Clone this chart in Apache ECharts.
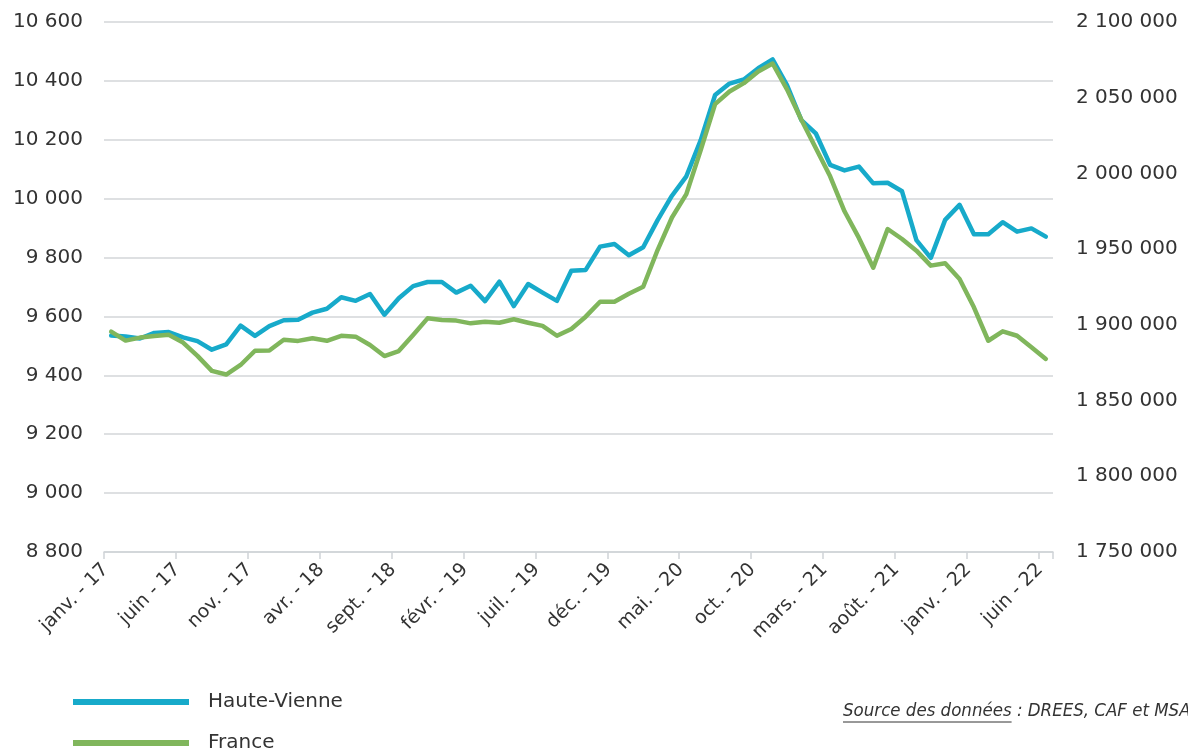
<!DOCTYPE html>
<html>
<head>
<meta charset="utf-8">
<script src="https://cdn.jsdelivr.net/npm/echarts@6/dist/echarts.min.js"></script>
<style>
html,body{margin:0;padding:0;background:#fff;}
#c{width:1188px;height:751px;}
</style>
</head>
<body>
<div id="c"></div>
<script>
// Categories: monthly, janv. 2017 -> juin 2022
const monthNames = ["janv.", "févr.", "mars.", "avr.", "mai.", "juin", "juil.", "août.", "sept.", "oct.", "nov.", "déc."];
const years = ["17", "18", "19", "20", "21", "22"];
const categories = [];
for (const y of years) {
  for (const m of monthNames) {
    categories.push(m + " - " + y);
    if (y === "22" && m === "juin") break;
  }
}

// Haute-Vienne (left axis)
const hauteVienne = [9535, 9532, 9525, 9544, 9547, 9529, 9516, 9487, 9505, 9569,
  9534, 9567, 9587, 9589, 9613, 9626, 9665, 9653, 9676, 9606,
  9662, 9703, 9717, 9717, 9681, 9704, 9652, 9718, 9635, 9710,
  9681, 9653, 9755, 9758, 9837, 9846, 9808, 9835, 9927, 10010,
  10076, 10199, 10352, 10391, 10405, 10443, 10473, 10386, 10267, 10222,
  10115, 10096, 10109, 10052, 10054, 10025, 9859, 9799, 9928, 9979,
  9879, 9879, 9920, 9888, 9899, 9871];

// France (right axis)
const france = [1895500, 1889600, 1891600, 1892700, 1893500, 1888300, 1879500, 1869600, 1867200, 1873500,
  1882900, 1883100, 1890200, 1889400, 1891100, 1889500, 1892800, 1892200, 1886700, 1879400,
  1882700, 1893300, 1904300, 1903200, 1902800, 1901000, 1902100, 1901400, 1903700, 1901400,
  1899300, 1892800, 1897300, 1905400, 1915300, 1915300, 1920600, 1925200, 1949400, 1970900,
  1986300, 2015500, 2045800, 2054100, 2059600, 2067300, 2072600, 2055500, 2035500, 2016800,
  1998100, 1975000, 1957400, 1937700, 1963300, 1956700, 1949000, 1939100, 1940700, 1930300,
  1911600, 1889500, 1895700, 1892800, 1885200, 1877500];

const seriesNames = ["Haute-Vienne", "France"];
const sourceLabel = "Source des données";
const sourceRest = " : DREES, CAF et MSA";

const fmt = v => String(v).replace(/\B(?=(\d{3})+(?!\d))/g, " ");

const FONT = "'DejaVu Sans', 'Noto Sans', sans-serif";
const SRCFONT = "'DejaVu Sans Condensed', 'DejaVu Sans', sans-serif";
const TXT = "#333333";
const BLUE = "#17aaca";
const GREEN = "#80b65c";
const SRC_SIZE = 18.5;

// measure underline width
const mctx = document.createElement("canvas").getContext("2d");
mctx.font = "italic " + SRC_SIZE + "px " + SRCFONT;
const uW = mctx.measureText(sourceLabel).width;
const srcX = 843, srcY = 702;

const legendCommon = {
  orient: "vertical",
  left: 68,
  icon: "rect",
  itemWidth: 116, itemHeight: 6,
  textStyle: {fontSize: 20, color: TXT, fontFamily: FONT, padding: [0, 0, 0, 14], lineHeight: 24}
};

const chart = echarts.init(document.getElementById("c"), null, {renderer: "canvas"});
chart.setOption({
  animation: false,
  backgroundColor: "#fff",
  grid: {left: 104, right: 135, top: 22, bottom: 199, containLabel: false},
  xAxis: {
    type: "category",
    data: categories,
    boundaryGap: true,
    axisLine: {lineStyle: {color: "#cfd3d7", width: 1.5}},
    axisTick: {show: true, interval: 4, length: 7, lineStyle: {color: "#cfd3d7", width: 1.5}},
    axisLabel: {interval: 4, rotate: 45, fontSize: 19, color: TXT, fontFamily: FONT, margin: 9, padding: [0, 8, 0, 0]},
    splitLine: {show: false}
  },
  yAxis: [
    {
      type: "value", min: 8800, max: 10600, interval: 200,
      axisLine: {show: false}, axisTick: {show: false},
      axisLabel: {fontSize: 20, color: TXT, fontFamily: FONT, margin: 21, formatter: fmt},
      splitLine: {lineStyle: {color: "#d3d6d9", width: 1.5}}
    },
    {
      type: "value", min: 1750000, max: 2100000, interval: 50000,
      axisLine: {show: false}, axisTick: {show: false},
      axisLabel: {fontSize: 20, color: TXT, fontFamily: FONT, margin: 23, formatter: fmt},
      splitLine: {show: false}
    }
  ],
  legend: [
    Object.assign({}, legendCommon, {top: 685, data: [seriesNames[0]]}),
    Object.assign({}, legendCommon, {top: 726, data: [seriesNames[1]]})
  ],
  graphic: [
    {
      type: "text", left: srcX, top: srcY,
      style: {
        text: "{a|" + sourceLabel + "}{b|" + sourceRest + "}",
        rich: {
          a: {fontStyle: "italic", fontSize: SRC_SIZE, fontFamily: SRCFONT, fill: TXT},
          b: {fontStyle: "italic", fontSize: SRC_SIZE, fontFamily: SRCFONT, fill: TXT}
        }
      }
    },
    {
      type: "line",
      shape: {x1: srcX, y1: srcY + 20, x2: srcX + uW, y2: srcY + 20},
      style: {stroke: TXT, lineWidth: 1}
    }
  ],
  series: [
    {
      name: seriesNames[0], type: "line", yAxisIndex: 0, data: hauteVienne,
      symbol: "none", color: BLUE,
      lineStyle: {width: 4.5, color: BLUE, cap: "round", join: "round"}
    },
    {
      name: seriesNames[1], type: "line", yAxisIndex: 1, data: france,
      symbol: "none", color: GREEN,
      lineStyle: {width: 4.5, color: GREEN, cap: "round", join: "round"}
    }
  ]
});
</script>
</body>
</html>
